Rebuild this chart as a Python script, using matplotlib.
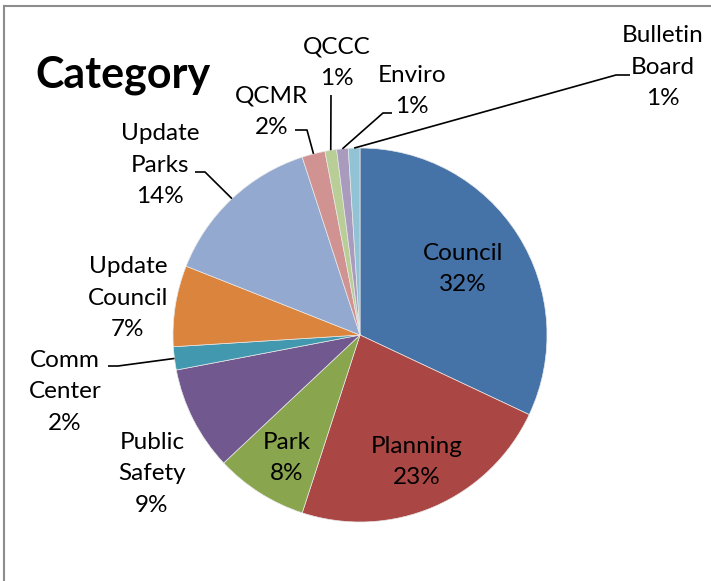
import matplotlib
matplotlib.use("Agg")
import matplotlib.pyplot as plt
from matplotlib.lines import Line2D
import numpy as np

categories = ["Council", "Planning", "Park", "Public\nSafety", "Comm\nCenter",
              "Update\nCouncil", "Update\nParks", "QCMR", "QCCC", "Enviro", "Bulletin\nBoard"]
values = [32, 23, 8, 9, 2, 7, 14, 2, 1, 1, 1]
colors = ["#4572A7", "#AA4643", "#89A54E", "#71588F", "#4198AF", "#DB843D",
          "#93A9CF", "#D19392", "#B9CD96", "#A99BBD", "#92C3D4"]
title = "Category"

W, H = 711, 581
CX, CY, R = 360, 335, 187
FONT = "Lato"
FS = 17.5

fig = plt.figure(figsize=(W / 100, H / 100), dpi=100)
ax = fig.add_axes([(CX - R) / W, (H - CY - R) / H, 2 * R / W, 2 * R / H])
wedges, _ = ax.pie(values, colors=colors, startangle=90, counterclock=False,
                   radius=1, wedgeprops=dict(edgecolor="#e8e8e8", linewidth=0.5))
ax.set_xlim(-1, 1)
ax.set_ylim(-1, 1)
ax.set_aspect("equal")
ax.axis("off")

def d(px, py):
    return ((px - CX) / R, (CY - py) / R)

total = sum(values)
pct = [f"{round(v / total * 100)}%" for v in values]

# label text centers (pixel) and leader paths (elbow, end) in pixels
label_pos = {
    0: (463, 269), 1: (417, 462), 2: (287, 458), 3: (152, 474), 4: (65, 392),
    5: (128, 298), 6: (160, 165), 7: (272, 112), 8: (337, 63), 9: (412, 91),
    10: (663, 67),
}
leaders = {
    4: [(118, 366), (108, 366)],
    6: [(205, 172), (195, 172)],
    7: [(307, 130), (295, 130)],
    8: [(331, 95)],
    9: [(383, 113), (392, 113)],
    10: [(616, 75), (630, 75)],
}

for i, (cat, p) in enumerate(zip(categories, pct)):
    x, y = d(*label_pos[i])
    ax.text(x, y, f"{cat}\n{p}", ha="center", va="center", fontsize=FS,
            family=FONT, linespacing=1.62, color="black")
    if i in leaders:
        w = wedges[i]
        th = np.deg2rad((w.theta1 + w.theta2) / 2)
        pts = [(np.cos(th), np.sin(th))] + [d(*q) for q in leaders[i]]
        xs, ys = zip(*pts)
        ax.plot(xs, ys, color="black", lw=1.2, solid_capstyle="butt", clip_on=False)

fig.text(35 / W, 1 - 75 / H, title, ha="left", va="center", fontsize=31,
         fontweight="bold", family=FONT)

# chart border (partially cropped)
fig.add_artist(Line2D([4 / W, 1], [1 - 6 / H, 1 - 6 / H], color="#8c8c8c", lw=1.5))
fig.add_artist(Line2D([4 / W, 4 / W], [0, 1 - 6 / H], color="#8c8c8c", lw=1.5))

fig.savefig("out.png", dpi=100)
